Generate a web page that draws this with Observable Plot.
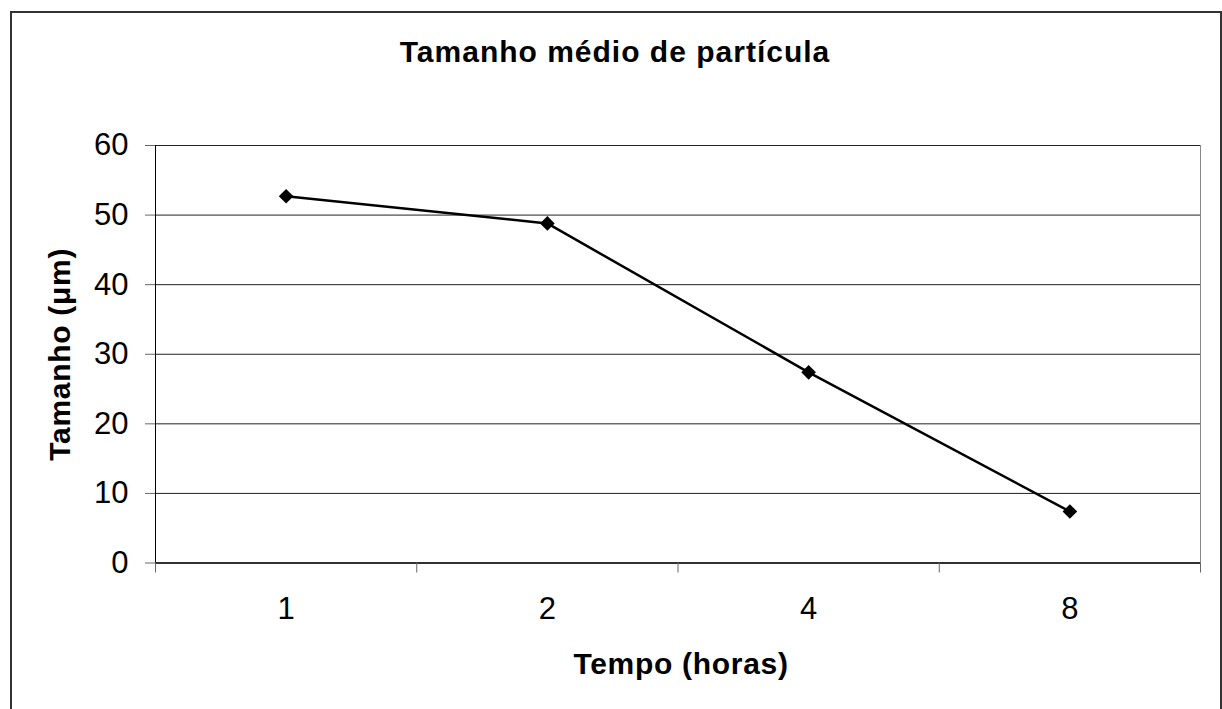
<!DOCTYPE html>
<html>
<head>
<meta charset="utf-8">
<script src="https://cdn.jsdelivr.net/npm/d3@7"></script>
<script src="https://cdn.jsdelivr.net/npm/@observablehq/plot@0.6"></script>
<style>
  html, body { margin: 0; padding: 0; background: #fff; overflow: hidden; }
  body { width: 1222px; height: 709px; position: relative; font-family: Arial, "Liberation Sans", sans-serif; }
  #frame { position: absolute; left: 10px; top: 11px; width: 1208px; height: 720px; border: 2px solid #333; pointer-events: none; }
  #title { height: 100px; box-sizing: border-box; padding-top: 37px; font-size: 30px; line-height: 30px; font-weight: bold; text-align: center; width: 1230px; letter-spacing: 1px; color: #000; }
  #chart svg { display: block; }
</style>
</head>
<body>
<div id="frame"></div>
<div id="title">Tamanho médio de partícula</div>
<div id="chart"></div>
<script>
// Data
const times = ["1", "2", "4", "8"];            // Tempo (horas) categories
const sizes = [52.7, 48.8, 27.4, 7.4];         // Tamanho (µm)
const yTicks = [0, 10, 20, 30, 40, 50, 60];
const titleText = "Tamanho médio de partícula";
const xLabel = "Tempo (horas)";
const yLabel = "Tamanho (μm)";

const rows = times.map((t, i) => ({pos: i + 1, t, v: sizes[i]}));
const catPositions = times.map((_, i) => i + 1);
const boundaries = d3.range(0, times.length + 1).map(i => i + 0.5);

const font = "Arial, 'Liberation Sans', sans-serif";

const chart = Plot.plot({
  width: 1222,
  height: 609,
  marginLeft: 155,
  marginRight: 22,
  marginTop: 45,
  marginBottom: 146.5,
  style: {fontFamily: font, color: "#000", background: "transparent"},
  x: {type: "linear", domain: [0.5, times.length + 0.5]},
  y: {domain: [0, 60]},
  marks: [
    Plot.frame({stroke: "#888"}),
    Plot.gridY({ticks: yTicks.filter(d => d > 0), stroke: "#222", strokeOpacity: 1, strokeWidth: 1}),
    Plot.ruleX([0.5], {stroke: "#000", strokeWidth: 1}),
    Plot.ruleY([0], {stroke: "#000", strokeWidth: 1.5}),
    Plot.axisY({ticks: yTicks, tickSize: 10, tickPadding: 17, fontSize: 31, stroke: "#666", label: null, fill: "#000"}),
    Plot.axisX({ticks: catPositions, tickFormat: i => times[i - 1], tickSize: 0, tickPadding: 34, fontSize: 31, label: null, fill: "#000"}),
    Plot.axisX({ticks: boundaries, tickFormat: () => "", tickSize: 10, stroke: "#666", label: null}),
    Plot.line(rows, {x: "pos", y: "v", stroke: "#000", strokeWidth: 2.5}),
    Plot.dot(rows, {x: "pos", y: "v", symbol: "diamond2", r: 6.6, fill: "#000", stroke: "none"}),
    Plot.text([xLabel], {text: d => d, frameAnchor: "bottom", lineAnchor: "middle", textAnchor: "middle", dx: 3, dy: 101, fontSize: 30, fontWeight: "bold", fill: "#000"}),
    Plot.text([yLabel], {text: d => d, frameAnchor: "left", lineAnchor: "middle", textAnchor: "middle", dx: -95, rotate: -90, fontSize: 30, fontWeight: "bold", fill: "#000"})
  ]
});

document.getElementById("chart").appendChild(chart);
d3.select(chart).selectAll("text")
  .filter(function () { return this.textContent === xLabel || this.textContent === yLabel; })
  .style("letter-spacing", "0.7px");
</script>
</body>
</html>
